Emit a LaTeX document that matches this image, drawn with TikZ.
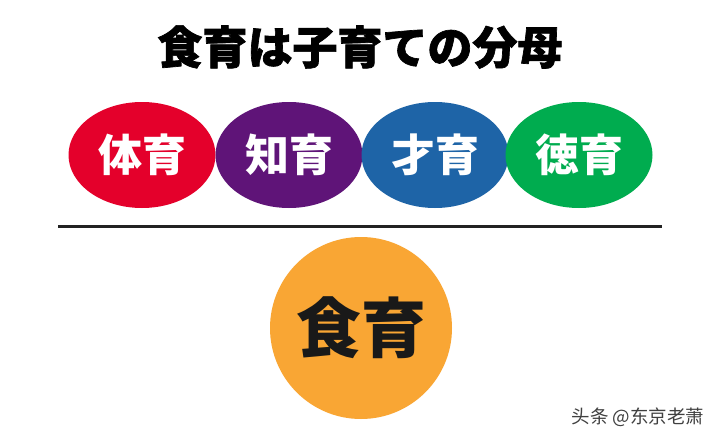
\documentclass[tikz,border=0pt]{standalone}
\usepackage{fontspec}
\newfontfamily\jpfont{Noto Sans CJK JP}
\newfontfamily\jpheavy{Noto Sans CJK JP}[BoldFeatures={FakeBold=1.5}]
\newfontfamily\scfont{Noto Sans CJK SC}
\usetikzlibrary{shapes.geometric}
\definecolor{cred}{HTML}{E4002B}
\definecolor{cpurple}{HTML}{5F1478}
\definecolor{cblue}{HTML}{1E64A7}
\definecolor{cgreen}{HTML}{00AC4F}
\definecolor{corange}{HTML}{F9A634}
\definecolor{cline}{HTML}{222222}
\tikzset{
  oval/.style={ellipse, minimum width=147pt, minimum height=106pt, inner sep=0pt,
    text=white, font=\jpfont\bfseries\fontsize{44}{44}\selectfont},
}
\begin{document}
\begin{tikzpicture}[x=1pt,y=-1pt]
\useasboundingbox[fill=white] (0,0) rectangle (716,439);
\node (title) at (360,47) {\jpheavy\bfseries\fontsize{45}{45}\selectfont 食育は子育ての分母};
\node[oval, fill=cred] (tai) at (142,155) {体育};
\node[oval, fill=cpurple] (chi) at (289,155) {知育};
\node[oval, fill=cblue] (sai) at (435,155) {才育};
\node[oval, fill=cgreen] (toku) at (579,155) {徳育};
\coordinate (l1) at (58,226);
\coordinate (l2) at (662,226);
\draw[cline, line width=3pt] (l1) -- (l2);
\node[circle, fill=corange, minimum size=182pt, inner sep=0pt,
  font=\jpfont\bfseries\fontsize{65}{65}\selectfont, text=black!90] (shoku) at (361,328) {食育};
\node[anchor=west, text=black!75, font=\scfont\fontsize{18.5}{18.5}\selectfont] (wm) at (568,417) {头条 @东京老萧};
\end{tikzpicture}
\end{document}
